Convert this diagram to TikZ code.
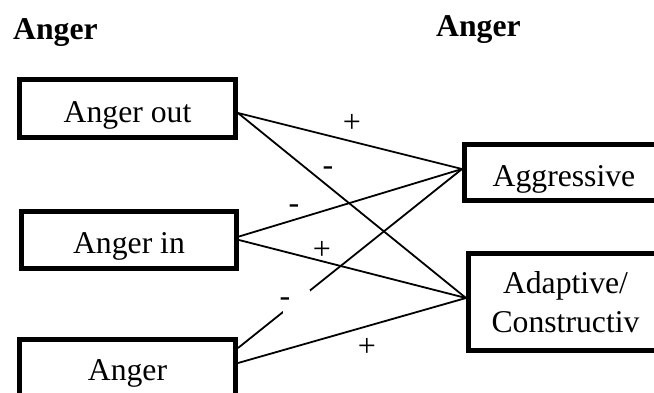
\documentclass[tikz,border=0pt]{standalone}
\usepackage{fontspec}
\setmainfont{Liberation Serif}
\begin{document}
\begin{tikzpicture}[x=1pt,y=-1pt,
  box/.style={draw, line width=4.8pt, fill=white, inner sep=0pt,
    font=\fontsize{31.7}{39}\selectfont, text height=27pt, text depth=0pt},
  link/.style={line width=1.8pt},
  sign/.style={font=\fontsize{32}{38}\selectfont, inner sep=0pt, text height=0pt, text depth=0pt},
  heading/.style={font=\fontsize{31.7}{38}\selectfont\bfseries, inner sep=0pt, anchor=base west}]
\useasboundingbox (0,0) rectangle (654,392);
\clip (0,0) rectangle (654,392);

% column headings
\node[heading] (hl) at (13,39) {Anger};
\node[heading] (hr) at (436,36) {Anger};

% predictor boxes
\node[box, minimum width=216.2pt, minimum height=58.2pt] (out) at (127.5,108.5) {Anger out};
\node[box, minimum width=215.2pt, minimum height=57.2pt] (in) at (129,240) {Anger in};
\node[box, minimum width=216.2pt, minimum height=78.2pt,
      text height=27pt, text depth=24pt] (anger) at (127.5,378.5) {Anger};

% outcome boxes
\node[box, minimum width=199.2pt, minimum height=56.2pt] (aggr) at (564,172.5) {Aggressive};
\node[box, minimum width=194.2pt, minimum height=97.2pt, align=center,
      text height=60pt, text depth=0pt] (adapt) at (565.5,302) {Adaptive/\\Constructiv};

% attachment points
\coordinate (outR) at ([yshift=-4.5]out.east);
\coordinate (inRa) at ([yshift=3.5]in.east);
\coordinate (inRb) at (in.east);
\coordinate (angRa) at ([yshift=30.5]anger.east);
\coordinate (angRb) at ([yshift=15.5]anger.east);
\coordinate (aggL) at ([yshift=3.5]aggr.west);
\coordinate (adaL) at ([yshift=4]adapt.west);

% paths
\draw[link] (outR) -- (aggL);
\draw[link] (outR) -- (adaL);
\draw[link] (inRa) -- (aggL);
\draw[link] (inRb) -- (adaL);
\draw[link] (angRa) -- (aggL);
\draw[link] (angRb) -- (adaL);

% break in the lower path around its sign
\node[fill=white, inner sep=0pt, minimum width=27pt, minimum height=26pt] (gap) at (296.5,302.5) {};

% signs (node centre sits on the text baseline)
\node[sign] (s1) at (352,132.5) {+};
\node[sign] (s2) at (328,175.6) {-};
\node[sign] (s3) at (294,213.6) {-};
\node[sign] (s4) at (322,259.5) {+};
\node[sign] (s5) at (285,306.6) {-};
\node[sign] (s6) at (367,356.5) {+};
\end{tikzpicture}
\end{document}
